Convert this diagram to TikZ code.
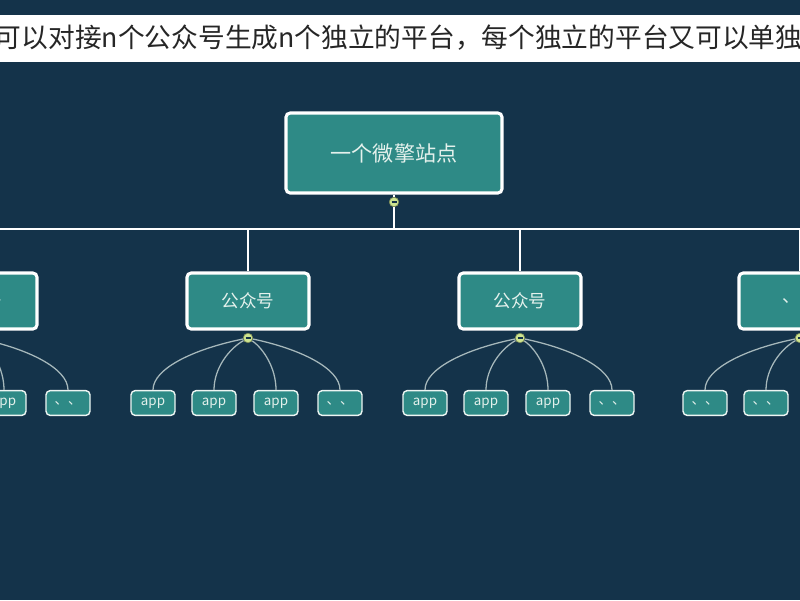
\documentclass[tikz,border=0pt]{standalone}
\usepackage{fontspec}
\usetikzlibrary{calc}
\newfontfamily\cjk{Noto Sans CJK SC}
\definecolor{bgdark}{HTML}{14334A}
\definecolor{boxteal}{HTML}{2E8A86}
\definecolor{knob}{HTML}{CDE48F}
\definecolor{txtlight}{HTML}{E4F1EC}
\tikzset{
  topic/.style={draw=white, line width=2.2pt, fill=boxteal, rounded corners=3pt,
    text=txtlight, font=\cjk\fontsize{15}{15}\selectfont, minimum width=5.4cm, minimum height=2cm},
  sub/.style={topic, minimum width=3.05cm, minimum height=1.4cm, font=\cjk\fontsize{12.5}{12.5}\selectfont},
  leaf/.style={draw=txtlight!70, line width=1pt, fill=boxteal, rounded corners=3pt,
    text=txtlight, font=\cjk\fontsize{9.5}{9.5}\selectfont, minimum width=1.1cm, minimum height=0.62cm, inner sep=1pt},
  toggle/.style={circle, fill=knob, draw=knob!60!black, line width=0.4pt, minimum size=0.24cm, inner sep=0pt},
  link/.style={draw=white, line width=1.6pt},
  twig/.style={draw=txtlight!70!bgdark, line width=0.9pt}
}
\begin{document}
\begin{tikzpicture}[x=0.025cm, y=-0.025cm]
    % Background and frame
    \fill[bgdark] (0,0) rectangle (800,600);
    \useasboundingbox (0,0) rectangle (800,600);
    \clip (0,0) rectangle (800,600);

    % Caption banner
    \fill[white] (-5,15) rectangle (805,62);
    \node[anchor=west, font=\cjk\fontsize{19}{19}\selectfont, text=black!85] (caption) at (-10,38)
        {可以对接n个公众号生成n个独立的平台，每个独立的平台又可以单独};

    % Root topic
    \node[topic] (root) at (394,153) {一个微擎站点};
    \node[toggle] (rootknob) at (394,202) {};
    \draw[bgdark, line width=1pt] ($(rootknob)+(-2.5,0)$) -- ($(rootknob)+(2.5,0)$);
    \coordinate (bus) at (394,229);
    \draw[link] (root.south) -- (rootknob) -- (bus);
    \draw[link] (-40,229) -- (840,229);

    % Accounts and their apps
    \foreach \c/\name/\ka/\kb/\kc/\kd [count=\i] in
        {-24/公众号/app/app/app/、、,
         248/公众号/app/app/app/、、,
         520/公众号/app/app/app/、、,
         800/、、/、、/、、/、、/、、} {
        \node[sub] (acct\i) at (\c,301) {\name};
        \coordinate (drop\i) at (\c,229);
        \draw[link] (drop\i) -- (acct\i.north);
        \node[toggle] (knob\i) at (\c,338) {};
        \draw[bgdark, line width=1pt] ($(knob\i)+(-2.5,0)$) -- ($(knob\i)+(2.5,0)$);
        \foreach \dx/\lab [count=\j] in {-95/\ka,-34/\kb,28/\kc,92/\kd} {
            \node[leaf] (app\i\j) at (\c+\dx,403) {\lab};
            \draw[twig] (knob\i) .. controls ($(knob\i)!0.55!(app\i\j.north)+(0,-18)$) and ($(app\i\j.north)+(0,-22)$) .. (app\i\j.north);
        }
    }
\end{tikzpicture}
\end{document}
